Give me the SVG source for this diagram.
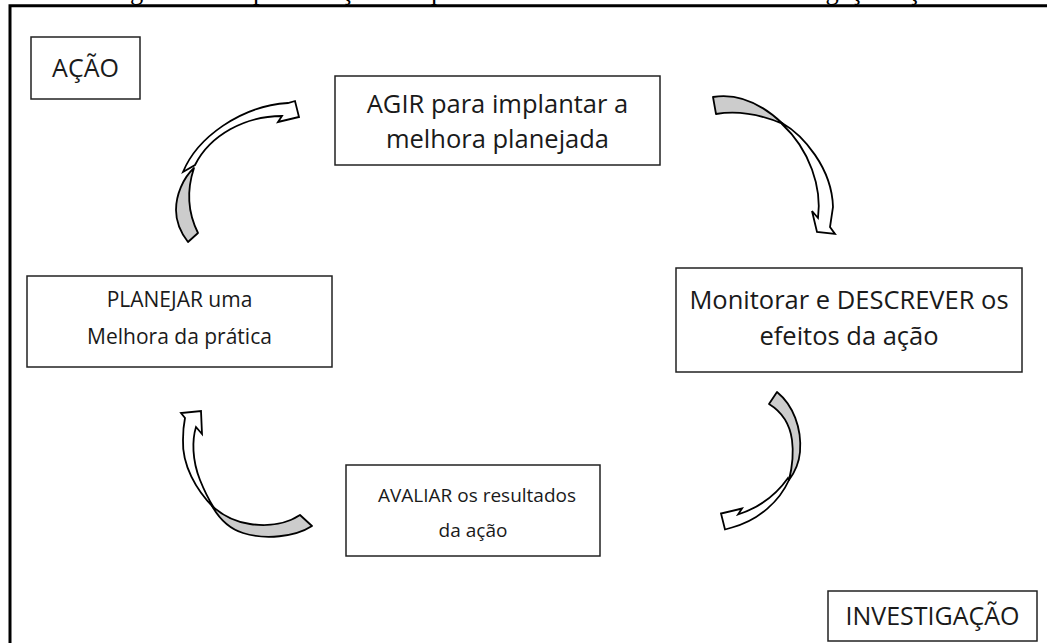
<svg xmlns="http://www.w3.org/2000/svg" width="1047" height="643" viewBox="0 0 1047 643">
<style>
.box{fill:#fff;stroke:#222;stroke-width:1.5}
.t{font-family:"Open Sans","Noto Sans",sans-serif;font-size:25.5px;fill:#1a1a1a;text-anchor:middle}
.s21{font-size:21px}
.s19{font-size:19px}
.s25{font-size:25px}
.back{fill:#cccccc;stroke:#000;stroke-width:1.8;stroke-linejoin:round}
.front{fill:#fff;stroke:#000;stroke-width:1.8;stroke-linejoin:miter}
.cap{font-family:"Liberation Serif","Times New Roman",serif;font-size:26.5px;fill:#000}
</style>
<rect width="1047" height="643" fill="#fff"/>
<text class="cap" x="108" y="-1">Figura 1 – Representação em quatro fases do ciclo básico da investigação-ação</text>
<path d="M10,650 L10,5.8 L1052,5.8" fill="none" stroke="#000" stroke-width="3"/>

<g id="node-acao"><rect class="box" x="31" y="37" width="109" height="62"/><text class="t s25" x="85.5" y="77">AÇÃO</text></g>
<g id="node-agir"><rect class="box" x="335" y="76" width="325" height="89"/><text class="t" x="497.5" y="113">AGIR para implantar a</text><text class="t" x="497.5" y="148">melhora planejada</text></g>
<g id="node-planejar"><rect class="box" x="27" y="276" width="305" height="91"/><text class="t s21" x="179.5" y="307">PLANEJAR uma</text><text class="t s21" x="179.5" y="344">Melhora da prática</text></g>
<g id="node-monitorar"><rect class="box" x="676" y="268" width="346" height="104"/><text class="t" x="849" y="309">Monitorar e DESCREVER os</text><text class="t" x="849" y="345">efeitos da ação</text></g>
<g id="node-avaliar"><rect class="box" x="346" y="465" width="254" height="91"/><text class="t s19" x="477" y="502">AVALIAR os resultados</text><text class="t s19" x="473" y="537">da ação</text></g>
<g id="node-investigacao"><rect class="box" x="828" y="591" width="209" height="50"/><text class="t s25" x="932.5" y="625">INVESTIGAÇÃO</text></g>

<g id="connectors">
<!-- planejar -> agir -->
<path class="back" d="M188,242 L198,233 C189,215 186,192 194,168 C183,178 176,195 176,210 C176,222 181,233 188,242 Z"/>
<path class="front" d="M183,172 C197,138 240,106 288,103 L295,101 L299,117 L278,122 L282,116 C245,116 210,135 195,165 Z"/>
<!-- agir -> monitorar -->
<path class="back" d="M713,97 L716,114 C740,110 762,115 783,124 C762,104 738,93 713,97 Z"/>
<path class="front" d="M782,123 C803,135 832,168 833,207 L830,227 L835,234 L817,232 L812,211 L818,218 C822,188 810,150 782,124 Z"/>
<!-- monitorar -> avaliar -->
<path class="back" d="M769,404 L777,392 C793,405 802,428 800,452 C799,463 795,472 789,480 C792,468 794,455 792,440 C790,425 782,412 769,404 Z"/>
<path class="front" d="M789,480 C780,500 760,520 732,527.5 L725,529.5 L721,513.5 L742,508.5 L738,514.5 C758,508 776,495 788,478 Z"/>
<!-- avaliar -> planejar -->
<path class="back" d="M300,515 L312,526 C295,537 265,540 243,533 C230,529 220,520 212,506 C222,515 235,522 250,524 C270,527 288,523 300,515 Z"/>
<path class="front" d="M214,508 C196,490 182,465 183,440 C183,430 184,423 185,418 L181,413 L201,411 L202,434 L196,427 C192,440 192,460 200,480 C204,490 209,500 214,508 Z"/>
</g>
</svg>
